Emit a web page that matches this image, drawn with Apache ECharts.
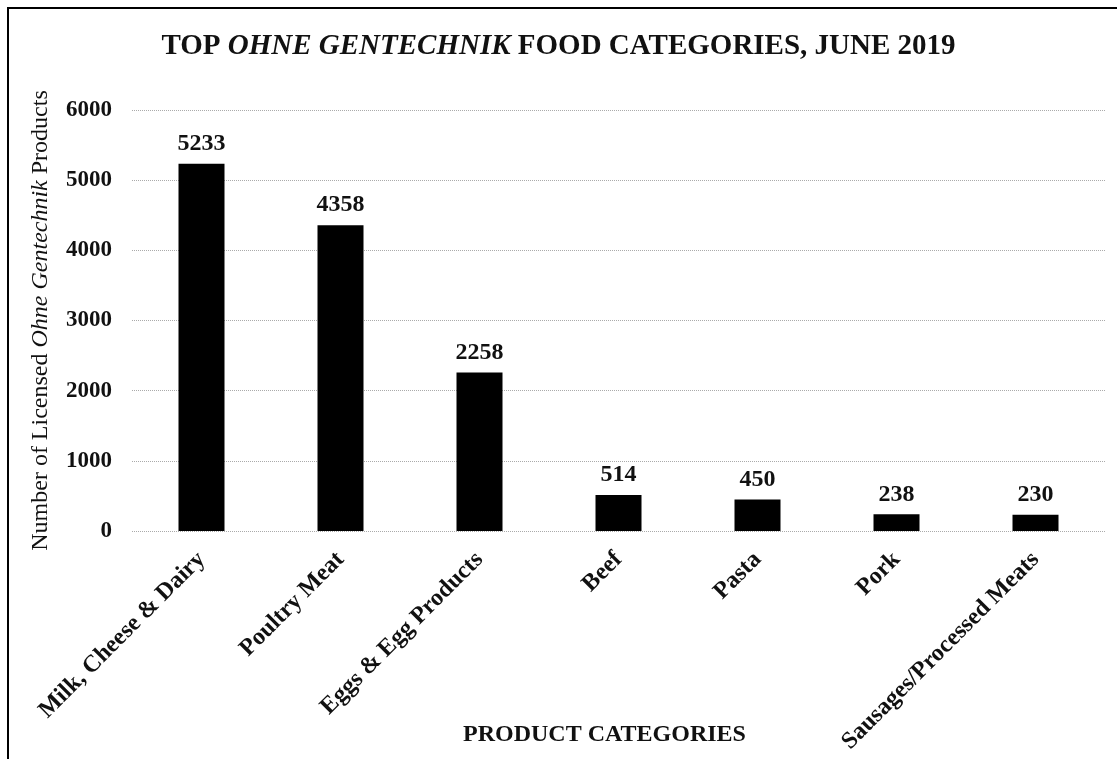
<!DOCTYPE html>
<html><head><meta charset="utf-8">
<script src="https://cdn.jsdelivr.net/npm/echarts@6/dist/echarts.min.js"></script>
<style>html,body{margin:0;padding:0;background:#fff}#c{width:1117px;height:759px;position:relative}
#frame{position:absolute;left:7px;top:7px;width:1120px;height:800px;border:2px solid #000;box-sizing:border-box;pointer-events:none}</style>
</head><body><div id="c"></div><div id="frame"></div>
<script>
const categories = ['Milk, Cheese & Dairy','Poultry Meat','Eggs & Egg Products','Beef','Pasta','Pork','Sausages/Processed Meats'];
const values = [5233,4358,2258,514,450,238,230];
const yTicks = [0,1000,2000,3000,4000,5000,6000];
const F = 'Liberation Serif';
const chart = echarts.init(document.getElementById('c'));
chart.setOption({
  animation:false,
  backgroundColor:'#fff',
  title:{
    text:'{b|TOP }{i|OHNE GENTECHNIK}{b| FOOD CATEGORIES, JUNE 2019}',
    left:'center', top:27,
    textStyle:{rich:{
      b:{fontFamily:F,fontWeight:'bold',fontSize:29,color:'#111'},
      i:{fontFamily:F,fontWeight:'bold',fontStyle:'italic',fontSize:29,color:'#111'}
    }}
  },
  grid:{left:132,right:12,top:110,bottom:228,outerBoundsMode:'none',containLabel:false},
  xAxis:{
    type:'category', data:categories,
    axisLine:{show:false}, axisTick:{show:false},
    axisLabel:{rotate:45,interval:0,margin:25,fontFamily:F,fontWeight:'bold',fontSize:24,color:'#111'},
    name:'PRODUCT CATEGORIES', nameLocation:'middle', nameGap:192, nameMoveOverlap:false,
    nameTextStyle:{fontFamily:F,fontWeight:'bold',fontSize:24,color:'#111',padding:[0,28,0,0]}
  },
  yAxis:{
    type:'value', min:yTicks[0], max:yTicks[yTicks.length-1], interval:1000,
    axisLine:{show:false}, axisTick:{show:false},
    axisLabel:{margin:20,fontFamily:F,fontWeight:'bold',fontSize:23,color:'#111',formatter:v=>String(v)},
    splitLine:{lineStyle:{color:'#aaa',type:'dotted',width:1}},
    name:'{n|Number of Licensed }{i|Ohne Gentechnik}{n| Products}',
    nameLocation:'middle', nameGap:79, nameRotate:90, nameMoveOverlap:false,
    nameTextStyle:{rich:{
      n:{fontFamily:F,fontSize:24,color:'#111'},
      i:{fontFamily:F,fontStyle:'italic',fontSize:24,color:'#111'}
    }}
  },
  series:[{
    type:'bar', data:values, barWidth:46,
    itemStyle:{color:'#000'},
    label:{show:true,position:'top',distance:8,fontFamily:F,fontWeight:'bold',fontSize:24,color:'#111'}
  }]
});
</script></body></html>
